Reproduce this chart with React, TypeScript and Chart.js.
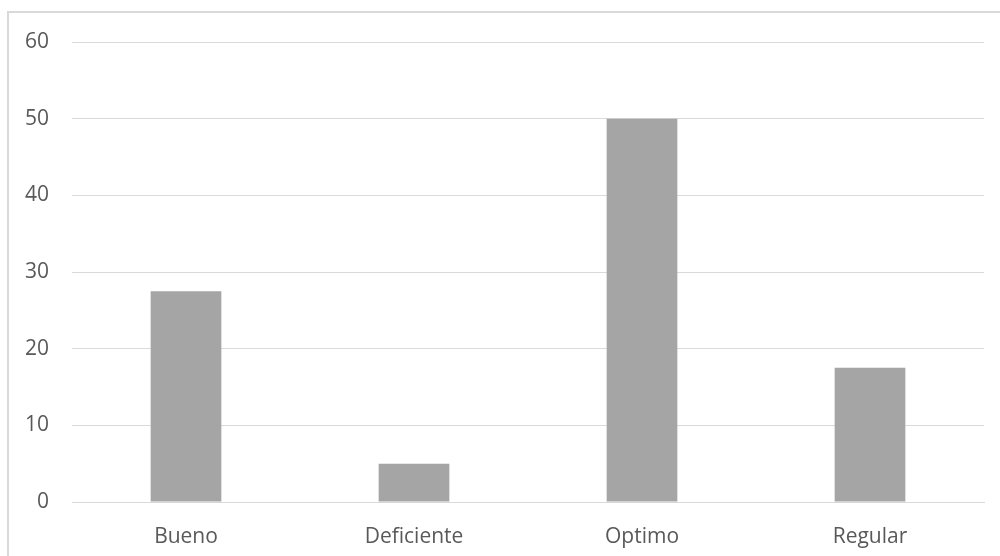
import React, { useEffect, useRef } from "react";
import { Chart, registerables } from "chart.js";

Chart.register(...registerables);

const categories = ["Bueno", "Deficiente", "Optimo", "Regular"];
const values = [27.5, 5, 50, 17.5];
const yMin = 0;
const yMax = 60;
const yStep = 10;

export default function App() {
  const ref = useRef<HTMLCanvasElement | null>(null);
  useEffect(() => {
    if (!ref.current) return;
    const font = { family: "'Open Sans', 'Liberation Sans', sans-serif", size: 21 };
    const chart = new Chart(ref.current, {
      type: "bar",
      data: {
        labels: categories,
        datasets: [
          {
            data: values,
            backgroundColor: "#a5a5a5",
            borderWidth: 0,
            categoryPercentage: 1,
            barPercentage: 0.31,
          },
        ],
      },
      options: {
        responsive: false,
        animation: false,
        layout: { padding: { top: 42, right: 16, left: 0, bottom: 0 } },
        plugins: { legend: { display: false }, tooltip: { enabled: false } },
        scales: {
          x: {
            grid: { display: false, drawTicks: false },
            border: { display: true, color: "#d9d9d9", width: 1 },
            ticks: { color: "#595959", font, padding: 22, maxRotation: 0 },
            afterFit: (s: any) => {
              s.height = 54;
            },
          },
          y: {
            min: yMin,
            max: yMax,
            grid: { color: "#d9d9d9", lineWidth: 1, drawTicks: false },
            border: { display: false },
            ticks: { stepSize: yStep, color: "#595959", font, padding: 23 },
            afterFit: (s: any) => {
              s.width = 72;
            },
          },
        },
      },
    });
    return () => chart.destroy();
  }, []);
  return (
    <div>
      <canvas
        ref={ref}
        width={1000}
        height={556}
        style={{ position: "fixed", left: 0, top: 0, width: 1000, height: 556 }}
      />
      <div
        style={{
          position: "fixed",
          left: 7,
          top: 11,
          right: -5,
          bottom: -5,
          border: "2px solid #d9d9d9",
          pointerEvents: "none",
        }}
      />
    </div>
  );
}
